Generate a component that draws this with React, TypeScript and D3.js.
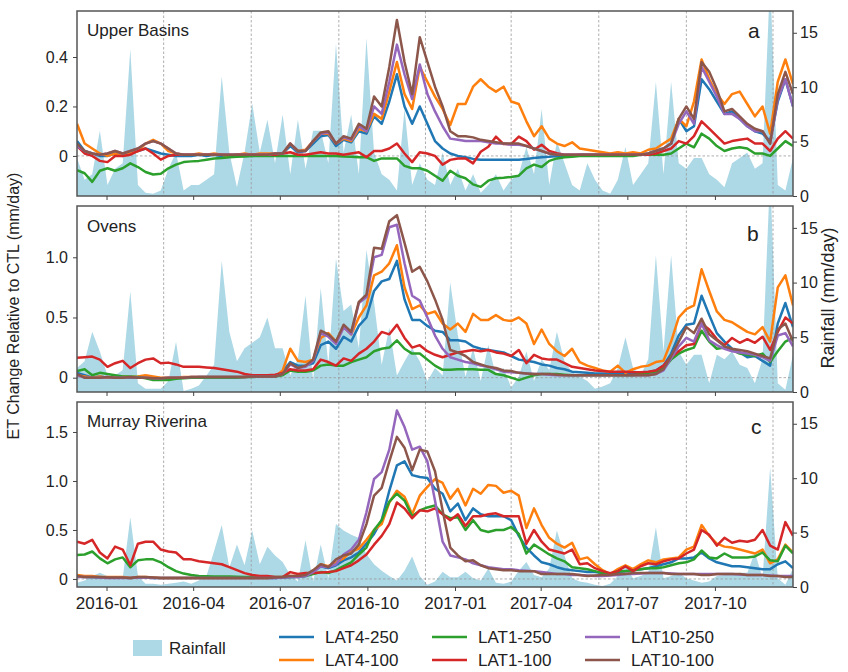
import React, { useEffect, useRef } from 'react';
import * as d3 from 'd3';

// 8-day steps starting 2015-12-01 (95 steps)
const startDate = new Date(2015, 11, 1);
const stepDays = 8;

const seriesNames = ['LAT4-250', 'LAT4-100', 'LAT1-250', 'LAT1-100', 'LAT10-250', 'LAT10-100'];
const seriesColors = ['#1f77b4', '#ff7f0e', '#2ca02c', '#d62728', '#9467bd', '#8c564b'];

const monthTicks = ['2016-01', '2016-04', '2016-07', '2016-10', '2017-01', '2017-04', '2017-07', '2017-10'];
const seasonStarts = ['2016-03', '2016-06', '2016-09', '2016-12', '2017-03', '2017-06', '2017-09', '2017-12'];
const rainTicks = [0, 5, 10, 15];

// ---- Upper Basins ----
const rainA = [
    3.5, 1.5, 2, 6, 1, 2.5, 3, 13.5, 1, 0.3,
    0.2, 0.5, 2.5, 4, 0.5, 1, 1, 1.5, 2, 11,
    4, 0.8, 4, 8.5, 4, 7, 3, 7.5, 2, 7,
    2.5, 6, 6, 3, 14, 4, 7.5, 2, 14.5, 4,
    2, 1.5, 0.5, 8, 1, 3, 1.5, 1, 4, 1,
    2.5, 0.5, 2, 0.3, 1, 2, 0.5, 1.5, 2, 4.5,
    2, 8, 1, 5, 3, 1, 0.5, 3, 1.5, 0.5,
    0.2, 1.5, 4.5, 1, 2, 3, 10.5, 2, 10.5, 3,
    2.5, 3.5, 3.5, 2, 1.5, 0.8, 3, 3.5, 4, 2.5,
    3, 20, 1, 0.5, 3.5
];
const lat4_250A = [
    0.06, 0.02, 0.01, 0.0, 0.0, 0.01, 0.0, 0.01, 0.02, 0.03,
    0.02, 0.01, 0.005, 0.0, 0.0, 0.0, 0.005, 0.0, 0.005, 0.0,
    0.0, 0.005, 0.005, 0.0, 0.005, 0.005, 0.005, 0.01, 0.04, 0.015,
    0.02, 0.05, 0.08, 0.085, 0.04, 0.065, 0.055, 0.10, 0.09, 0.16,
    0.13, 0.22, 0.33, 0.20, 0.13, 0.20, 0.13, 0.06, 0.03, 0.01,
    0.0, -0.005, -0.012, -0.015, -0.015, -0.015, -0.015, -0.015, -0.015, -0.012,
    -0.008, -0.005, -0.003, 0.0, 0.0, 0.0, 0.005, 0.005, 0.005, 0.005,
    0.005, 0.005, 0.005, 0.005, 0.005, 0.01, 0.02, 0.03, 0.05, 0.15,
    0.10, 0.12, 0.31, 0.27, 0.22, 0.17, 0.18, 0.15, 0.12, 0.10,
    0.09, 0.06, 0.22, 0.31, 0.20
];
const lat4_100A = [
    0.13, 0.05, 0.03, 0.01, 0.0, 0.01, 0.0, 0.01, 0.02, 0.05,
    0.065, 0.05, 0.02, 0.01, 0.005, 0.005, 0.01, 0.005, 0.01, 0.005,
    0.0, 0.005, 0.01, 0.005, 0.01, 0.01, 0.01, 0.01, 0.05, 0.02,
    0.025, 0.06, 0.09, 0.09, 0.05, 0.07, 0.06, 0.11, 0.10, 0.17,
    0.15, 0.26, 0.38, 0.25, 0.19, 0.36, 0.30, 0.24, 0.19, 0.125,
    0.21, 0.21, 0.28, 0.31, 0.28, 0.26, 0.28, 0.22, 0.21, 0.14,
    0.08, 0.12, 0.07, 0.05, 0.04, 0.055, 0.03, 0.025, 0.02, 0.015,
    0.01, 0.015, 0.01, 0.015, 0.01, 0.025, 0.03, 0.05, 0.07, 0.15,
    0.12, 0.22, 0.39, 0.31, 0.25, 0.21, 0.25, 0.26, 0.21, 0.16,
    0.20, 0.09, 0.30, 0.39, 0.29
];
const lat1_250A = [
    -0.057, -0.07, -0.105, -0.06, -0.05, -0.06, -0.05, -0.03, -0.045, -0.065,
    -0.075, -0.072, -0.05, -0.035, -0.025, -0.022, -0.02, -0.015, -0.01, -0.008,
    -0.005, -0.003, -0.002, 0.0, 0.0, 0.0, 0.0, 0.0, 0.0, 0.0,
    0.0, 0.0, 0.0, 0.0, 0.0, -0.002, -0.003, -0.005, -0.005, -0.02,
    -0.01, -0.01, -0.01, -0.04, -0.05, -0.05, -0.06, -0.08, -0.1, -0.06,
    -0.08, -0.09, -0.115, -0.125, -0.1, -0.09, -0.088, -0.085, -0.08, -0.05,
    -0.035, -0.045, -0.02, -0.01, -0.005, -0.003, 0.0, 0.0, 0.0, 0.0,
    0.0, 0.0, 0.0, 0.0, 0.005, 0.005, 0.005, 0.005, 0.01, 0.03,
    0.05, 0.035, 0.09, 0.07, 0.04, 0.02, 0.03, 0.035, 0.03, 0.01,
    0.01, 0.0, 0.03, 0.06, 0.04
];
const lat1_100A = [
    0.04, 0.01, 0.0, -0.02, -0.025, 0.0, 0.0, 0.005, 0.02, 0.03,
    0.01, -0.015, 0.0, 0.005, 0.005, 0.005, 0.005, 0.005, 0.005, 0.005,
    0.005, 0.005, 0.005, 0.005, 0.005, 0.005, 0.005, 0.01, 0.015, 0.005,
    0.005, 0.01, 0.015, 0.01, 0.01, 0.005, 0.01, 0.015, -0.005, 0.02,
    0.02, 0.03, 0.05, 0.01, -0.025, 0.015, 0.01, 0.0, -0.035, -0.016,
    -0.01, -0.01, -0.03, 0.017, 0.037, 0.078, 0.048, 0.048, 0.078, 0.06,
    0.025, 0.045, 0.02, 0.011, 0.005, 0.005, 0.005, 0.005, 0.005, 0.005,
    0.005, 0.005, 0.005, 0.005, 0.005, 0.005, 0.01, 0.02, 0.03, 0.06,
    0.05, 0.08, 0.14, 0.11, 0.08, 0.05, 0.06, 0.065, 0.07, 0.05,
    0.05, 0.02, 0.07, 0.10, 0.07
];
const lat10_250A = [
    0.04, 0.02, 0.01, 0.005, 0.01, 0.02, 0.01, 0.02, 0.03, 0.05,
    0.06, 0.05, 0.03, 0.01, 0.005, 0.005, 0.005, 0.005, 0.005, 0.005,
    0.005, 0.005, 0.005, 0.005, 0.005, 0.005, 0.01, 0.01, 0.05, 0.02,
    0.02, 0.06, 0.09, 0.095, 0.05, 0.075, 0.065, 0.12, 0.10, 0.20,
    0.17, 0.30, 0.45, 0.33, 0.23, 0.37, 0.25, 0.18, 0.12, 0.07,
    0.065, 0.06, 0.06, 0.06, 0.055, 0.05, 0.05, 0.045, 0.045, 0.04,
    0.03, 0.02, 0.01, 0.005, 0.005, 0.005, 0.005, 0.005, 0.005, 0.005,
    0.005, 0.005, 0.005, 0.005, 0.005, 0.01, 0.02, 0.03, 0.05, 0.13,
    0.18, 0.13, 0.36, 0.30, 0.24, 0.17, 0.17, 0.15, 0.12, 0.10,
    0.10, 0.05, 0.23, 0.31, 0.20
];
const lat10_100A = [
    0.05, 0.02, 0.01, 0.005, 0.01, 0.02, 0.01, 0.02, 0.03, 0.05,
    0.06, 0.05, 0.03, 0.01, 0.005, 0.005, 0.005, 0.005, 0.005, 0.005,
    0.005, 0.005, 0.005, 0.005, 0.005, 0.005, 0.01, 0.01, 0.05, 0.02,
    0.02, 0.06, 0.095, 0.10, 0.05, 0.08, 0.07, 0.13, 0.11, 0.24,
    0.20, 0.36, 0.55, 0.38, 0.25, 0.48, 0.38, 0.28, 0.20, 0.10,
    0.08, 0.08, 0.075, 0.065, 0.06, 0.055, 0.05, 0.05, 0.05, 0.04,
    0.03, 0.02, 0.01, 0.005, 0.005, 0.005, 0.005, 0.005, 0.005, 0.005,
    0.005, 0.005, 0.005, 0.005, 0.005, 0.01, 0.02, 0.03, 0.05, 0.15,
    0.20, 0.15, 0.38, 0.34, 0.27, 0.18, 0.19, 0.16, 0.13, 0.11,
    0.10, 0.05, 0.25, 0.34, 0.25
];

// ---- Ovens ----
const rainB = [
    2.2, 2.8, 5.5, 3.7, 1.5, 1.5, 2, 9.2, 0.8, 0.3,
    0.3, 0.3, 1, 4.6, 0.1, 0.3, 0.6, 1.5, 2.5, 12,
    5.5, 2.8, 4, 4.5, 5, 6.8, 4, 4, 1.5, 3,
    8.8, 1, 9.5, 2.5, 12.2, 7.4, 8, 4, 13, 8.2,
    2.5, 5.9, 1.5, 2.8, 4, 2.8, 1, 2.2, 1.5, 10,
    5.2, 1.4, 4, 1, 4.3, 1.5, 2.2, 0.4, 1.4, 3.7,
    1, 3, 2, 5.5, 2.8, 1.8, 1.4, 1, 0.3, 0.5,
    0.8, 2.2, 5, 2.2, 1.5, 3, 12.5, 3.7, 12.5, 3.7,
    2.5, 3.4, 3.4, 0.8, 3.4, 3, 3.7, 2.5, 2.2, 0.8,
    3, 20, 0.8, 0.2, 3.4
];
const lat4_250B = [
    0.04, 0.02, 0.0, 0.01, 0.0, 0.0, 0.005, 0.0, 0.0, 0.0,
    0.0, -0.005, -0.005, 0.0, 0.0, 0.0, 0.005, 0.005, 0.005, 0.005,
    0.005, 0.005, 0.005, 0.01, 0.01, 0.01, 0.01, 0.05, 0.13, 0.10,
    0.10, 0.12, 0.27, 0.30, 0.24, 0.34, 0.30, 0.43, 0.50, 0.72,
    0.80, 0.82, 0.97, 0.65, 0.48, 0.48, 0.43, 0.39, 0.38, 0.31,
    0.31, 0.30, 0.26, 0.24, 0.23, 0.22, 0.21, 0.18, 0.15, 0.14,
    0.13, 0.11, 0.10, 0.08, 0.07, 0.05, 0.045, 0.04, 0.035, 0.035,
    0.035, 0.035, 0.035, 0.035, 0.035, 0.045, 0.06, 0.10, 0.20, 0.35,
    0.44, 0.45, 0.68, 0.52, 0.37, 0.30, 0.24, 0.21, 0.17, 0.18,
    0.14, 0.10, 0.45, 0.62, 0.42
];
const lat4_100B = [
    0.02, 0.01, 0.0, 0.01, 0.0, 0.01, 0.01, 0.005, 0.01, 0.02,
    0.01, 0.0, 0.0, 0.0, 0.005, 0.005, 0.005, 0.005, 0.005, 0.005,
    0.005, 0.005, 0.005, 0.01, 0.01, 0.01, 0.01, 0.06, 0.24, 0.14,
    0.13, 0.15, 0.33, 0.37, 0.30, 0.42, 0.36, 0.50, 0.60, 0.85,
    0.88, 0.95, 1.10, 0.75, 0.57, 0.60, 0.53, 0.55, 0.45, 0.40,
    0.45, 0.38, 0.53, 0.48, 0.48, 0.52, 0.48, 0.47, 0.50, 0.45,
    0.28, 0.40, 0.28, 0.22, 0.18, 0.24, 0.13, 0.10, 0.08, 0.06,
    0.05, 0.10, 0.04, 0.07, 0.09, 0.10, 0.13, 0.14, 0.30, 0.50,
    0.57, 0.60, 0.90, 0.72, 0.55, 0.48, 0.46, 0.42, 0.38, 0.36,
    0.42, 0.30, 0.75, 0.85, 0.60
];
const lat1_250B = [
    0.055, 0.07, 0.02, 0.04, 0.03, 0.02, 0.01, 0.01, 0.005, -0.005,
    -0.02, -0.02, -0.02, -0.01, -0.005, 0.0, 0.0, 0.0, 0.0, 0.0,
    0.0, 0.0, 0.005, 0.005, 0.01, 0.01, 0.01, 0.02, 0.06, 0.05,
    0.05, 0.06, 0.10, 0.11, 0.10, 0.10, 0.13, 0.15, 0.17, 0.22,
    0.24, 0.25, 0.31, 0.24, 0.20, 0.20, 0.15, 0.10, 0.065, 0.065,
    0.07, 0.07, 0.07, 0.065, 0.065, 0.03, 0.02, 0.0, -0.02, 0.0,
    0.02, 0.03, 0.03, 0.03, 0.025, 0.02, 0.02, 0.02, 0.02, 0.02,
    0.02, 0.02, 0.02, 0.02, 0.03, 0.035, 0.04, 0.08, 0.15, 0.20,
    0.23, 0.25, 0.39, 0.30, 0.24, 0.25, 0.23, 0.20, 0.19, 0.18,
    0.20, 0.13, 0.22, 0.30, 0.33
];
const lat1_100B = [
    0.166, 0.17, 0.175, 0.15, 0.09, 0.12, 0.14, 0.08, 0.12, 0.15,
    0.16, 0.12, 0.125, 0.11, 0.09, 0.09, 0.09, 0.085, 0.08, 0.07,
    0.06, 0.05, 0.03, 0.02, 0.02, 0.02, 0.025, 0.04, 0.07, 0.06,
    0.06, 0.07, 0.15, 0.13, 0.10, 0.16, 0.14, 0.20, 0.24, 0.30,
    0.38, 0.36, 0.44, 0.33, 0.25, 0.27, 0.22, 0.19, 0.17, 0.19,
    0.21, 0.22, 0.23, 0.22, 0.23, 0.21, 0.20, 0.18, 0.23, 0.12,
    0.19, 0.16, 0.15, 0.15, 0.12, 0.09, 0.08, 0.07, 0.06, 0.055,
    0.05, 0.05, 0.05, 0.045, 0.045, 0.05, 0.06, 0.10, 0.17, 0.22,
    0.27, 0.28, 0.45, 0.40, 0.32, 0.27, 0.33, 0.29, 0.32, 0.29,
    0.34, 0.23, 0.38, 0.50, 0.45
];
const lat10_250B = [
    0.02, 0.0, 0.0, 0.0, 0.005, 0.0, 0.0, 0.005, 0.0, 0.0,
    -0.005, -0.005, 0.0, 0.0, 0.0, 0.005, 0.005, 0.005, 0.005, 0.005,
    0.005, 0.005, 0.005, 0.01, 0.01, 0.01, 0.01, 0.03, 0.11, 0.08,
    0.09, 0.14, 0.37, 0.34, 0.28, 0.42, 0.36, 0.62, 0.67, 1.00,
    1.02, 1.25, 1.27, 0.95, 0.68, 0.64, 0.50, 0.35, 0.24, 0.17,
    0.15, 0.13, 0.12, 0.10, 0.09, 0.07, 0.05, 0.045, 0.04, 0.035,
    0.03, 0.03, 0.025, 0.02, 0.02, 0.02, 0.02, 0.02, 0.02, 0.02,
    0.02, 0.02, 0.02, 0.02, 0.02, 0.02, 0.03, 0.06, 0.16, 0.26,
    0.33, 0.30, 0.45, 0.31, 0.27, 0.24, 0.22, 0.21, 0.20, 0.19,
    0.17, 0.14, 0.35, 0.37, 0.26
];
const lat10_100B = [
    0.03, 0.0, 0.0, 0.0, 0.005, 0.0, 0.0, 0.005, 0.0, 0.0,
    -0.005, -0.005, 0.0, 0.0, 0.0, 0.005, 0.005, 0.005, 0.005, 0.005,
    0.005, 0.005, 0.005, 0.01, 0.01, 0.01, 0.01, 0.03, 0.12, 0.08,
    0.10, 0.15, 0.39, 0.36, 0.30, 0.44, 0.38, 0.63, 0.69, 1.08,
    1.07, 1.30, 1.35, 1.12, 0.88, 0.92, 0.80, 0.65, 0.48, 0.23,
    0.21, 0.18, 0.13, 0.11, 0.09, 0.08, 0.06, 0.055, 0.04, 0.035,
    0.03, 0.03, 0.03, 0.025, 0.02, 0.02, 0.02, 0.02, 0.02, 0.02,
    0.02, 0.02, 0.02, 0.02, 0.02, 0.02, 0.03, 0.07, 0.18, 0.30,
    0.42, 0.37, 0.49, 0.36, 0.31, 0.26, 0.24, 0.23, 0.22, 0.20,
    0.18, 0.16, 0.40, 0.45, 0.30
];

// ---- Murray Riverina ----
const rainC = [
    0.4, 0.6, 1, 1.3, 1, 0.8, 0.8, 6.4, 1, 0.3,
    0.3, 0.2, 0.3, 0.4, 0.5, 0.3, 0.6, 1, 3.3, 5.7,
    1.8, 3.9, 2, 5.2, 2.1, 3.7, 2.9, 2.3, 1.1, 0.5,
    4.3, 0.5, 3.9, 0.8, 5.8, 5.2, 4.8, 4.5, 3, 2.1,
    1.5, 1, 0.6, 1.5, 2.8, 1, 0.2, 0.5, 1.4, 0.9,
    0.9, 1.4, 0.8, 0.6, 1.7, 0.4, 0.3, 0.5, 1.5, 2.3,
    1.1, 0.9, 1.7, 5.2, 2.9, 0.8, 0.5, 0.4, 0.2, 0.1,
    0.3, 1, 1.9, 0.8, 1, 1.3, 5.5, 0.8, 1, 1.3,
    0.8, 0.6, 0.4, 0.5, 1, 1.1, 1.1, 1.3, 1.3, 3.2,
    0.8, 11, 0.8, 0.2, 1.7
];
const lat4_250C = [
    0.03, 0.02, 0.02, 0.015, 0.015, 0.015, 0.015, 0.01, 0.015, 0.015,
    0.01, 0.01, 0.01, 0.01, 0.01, 0.01, 0.01, 0.01, 0.01, 0.01,
    0.01, 0.01, 0.01, 0.01, 0.01, 0.01, 0.01, 0.015, 0.02, 0.02,
    0.03, 0.07, 0.13, 0.11, 0.14, 0.19, 0.22, 0.27, 0.36, 0.46,
    0.60, 0.90, 1.16, 1.20, 1.06, 1.04, 1.03, 0.92, 0.87, 0.69,
    0.77, 0.60, 0.72, 0.66, 0.64, 0.64, 0.64, 0.60, 0.44, 0.32,
    0.24, 0.17, 0.15, 0.12, 0.10, 0.09, 0.08, 0.07, 0.07, 0.06,
    0.05, 0.07, 0.08, 0.09, 0.10, 0.11, 0.13, 0.15, 0.17, 0.21,
    0.21, 0.22, 0.27, 0.21, 0.17, 0.15, 0.13, 0.13, 0.12, 0.11,
    0.10, 0.10, 0.15, 0.18, 0.11
];
const lat4_100C = [
    0.04, 0.03, 0.03, 0.02, 0.02, 0.02, 0.02, 0.01, 0.02, 0.02,
    0.015, 0.01, 0.01, 0.01, 0.01, 0.01, 0.01, 0.01, 0.01, 0.01,
    0.01, 0.01, 0.01, 0.01, 0.01, 0.01, 0.015, 0.02, 0.03, 0.03,
    0.04, 0.08, 0.15, 0.13, 0.17, 0.21, 0.28, 0.31, 0.40, 0.50,
    0.56, 0.78, 0.90, 0.84, 0.66, 0.85, 0.94, 1.02, 0.98, 0.82,
    0.92, 0.75, 0.92, 0.87, 0.96, 0.95, 0.88, 0.90, 0.85, 0.52,
    0.72, 0.55, 0.42, 0.36, 0.32, 0.37, 0.20, 0.22, 0.15, 0.09,
    0.05, 0.10, 0.14, 0.10, 0.15, 0.19, 0.17, 0.20, 0.21, 0.22,
    0.30, 0.33, 0.55, 0.44, 0.36, 0.33, 0.32, 0.30, 0.28, 0.26,
    0.30, 0.16, 0.20, 0.35, 0.27
];
const lat1_250C = [
    0.245, 0.25, 0.28, 0.21, 0.16, 0.20, 0.22, 0.12, 0.19, 0.20,
    0.20, 0.17, 0.12, 0.08, 0.055, 0.04, 0.03, 0.028, 0.025, 0.025,
    0.025, 0.022, 0.02, 0.02, 0.02, 0.02, 0.02, 0.02, 0.02, 0.025,
    0.03, 0.05, 0.07, 0.06, 0.09, 0.13, 0.17, 0.25, 0.32, 0.50,
    0.60, 0.79, 0.87, 0.80, 0.64, 0.70, 0.73, 0.75, 0.66, 0.62,
    0.63, 0.50, 0.60, 0.50, 0.48, 0.50, 0.50, 0.53, 0.46, 0.26,
    0.35, 0.30, 0.25, 0.21, 0.18, 0.12, 0.11, 0.10, 0.08, 0.06,
    0.05, 0.08, 0.08, 0.09, 0.10, 0.11, 0.11, 0.12, 0.14, 0.16,
    0.17, 0.20, 0.29, 0.22, 0.21, 0.26, 0.22, 0.22, 0.22, 0.23,
    0.27, 0.19, 0.18, 0.34, 0.26
];
const lat1_100C = [
    0.38, 0.36, 0.40, 0.27, 0.21, 0.33, 0.30, 0.14, 0.36, 0.38,
    0.38, 0.30, 0.28, 0.27, 0.20, 0.20, 0.18, 0.17, 0.16, 0.15,
    0.12, 0.09, 0.06, 0.04, 0.03, 0.03, 0.02, 0.02, 0.07, 0.05,
    0.06, 0.06, 0.065, 0.07, 0.08, 0.11, 0.14, 0.19, 0.25, 0.35,
    0.44, 0.56, 0.78, 0.72, 0.62, 0.70, 0.69, 0.72, 0.66, 0.60,
    0.66, 0.54, 0.64, 0.64, 0.66, 0.67, 0.64, 0.64, 0.64, 0.36,
    0.50, 0.38, 0.30, 0.28, 0.26, 0.30, 0.15, 0.16, 0.11, 0.08,
    0.06, 0.08, 0.13, 0.08, 0.13, 0.16, 0.15, 0.18, 0.20, 0.21,
    0.26, 0.30, 0.50, 0.45, 0.34, 0.42, 0.37, 0.39, 0.38, 0.40,
    0.50, 0.34, 0.30, 0.58, 0.44
];
const lat10_250C = [
    0.02, 0.02, 0.02, 0.015, 0.01, 0.01, 0.01, 0.01, 0.015, 0.015,
    0.01, 0.01, 0.01, 0.01, 0.01, 0.01, 0.01, 0.01, 0.01, 0.01,
    0.01, 0.01, 0.01, 0.01, 0.01, 0.01, 0.01, 0.015, 0.02, 0.02,
    0.03, 0.07, 0.13, 0.12, 0.15, 0.25, 0.30, 0.40, 0.68, 1.02,
    1.09, 1.32, 1.72, 1.55, 1.32, 1.35, 1.20, 0.80, 0.38, 0.24,
    0.22, 0.20, 0.16, 0.14, 0.12, 0.11, 0.10, 0.10, 0.09, 0.085,
    0.08, 0.07, 0.06, 0.05, 0.05, 0.04, 0.04, 0.035, 0.03, 0.03,
    0.035, 0.04, 0.05, 0.05, 0.055, 0.06, 0.06, 0.06, 0.055, 0.05,
    0.05, 0.05, 0.05, 0.05, 0.05, 0.05, 0.05, 0.045, 0.04, 0.04,
    0.04, 0.035, 0.03, 0.03, 0.03
];
const lat10_100C = [
    0.03, 0.02, 0.02, 0.02, 0.015, 0.015, 0.015, 0.01, 0.02, 0.02,
    0.015, 0.01, 0.01, 0.01, 0.01, 0.01, 0.01, 0.01, 0.01, 0.01,
    0.01, 0.01, 0.01, 0.01, 0.01, 0.01, 0.015, 0.02, 0.03, 0.03,
    0.04, 0.09, 0.15, 0.12, 0.20, 0.24, 0.26, 0.35, 0.56, 0.85,
    0.93, 1.20, 1.45, 1.34, 1.11, 1.32, 1.30, 1.10, 0.70, 0.32,
    0.24, 0.18, 0.19, 0.14, 0.11, 0.10, 0.09, 0.09, 0.08, 0.08,
    0.08, 0.05, 0.05, 0.05, 0.05, 0.05, 0.04, 0.03, 0.035, 0.04,
    0.04, 0.05, 0.05, 0.06, 0.06, 0.06, 0.06, 0.06, 0.05, 0.05,
    0.05, 0.05, 0.04, 0.04, 0.05, 0.05, 0.05, 0.05, 0.04, 0.04,
    0.04, 0.03, 0.03, 0.02, 0.02
];

const panels = [
    {
        title: 'Upper Basins', letter: 'a', top: 11, bottom: 196,
        yDomain: [-0.162, 0.586], yTicks: [0, 0.2, 0.4],
        titleY: 36, letterY: 38, letterX: 748,
        rain: rainA,
        series: [lat4_250A, lat4_100A, lat1_250A, lat1_100A, lat10_250A, lat10_100A]
    },
    {
        title: 'Ovens', letter: 'b', top: 206, bottom: 392,
        yDomain: [-0.119, 1.426], yTicks: [0, 0.5, 1.0],
        titleY: 232, letterY: 241, letterX: 747,
        rain: rainB,
        series: [lat4_250B, lat4_100B, lat1_250B, lat1_100B, lat10_250B, lat10_100B]
    },
    {
        title: 'Murray Riverina', letter: 'c', top: 402, bottom: 587,
        yDomain: [-0.082, 1.806], yTicks: [0, 0.5, 1.0, 1.5],
        titleY: 427, letterY: 434, letterX: 751,
        rain: rainC,
        series: [lat4_250C, lat4_100C, lat1_250C, lat1_100C, lat10_250C, lat10_100C]
    }
];

const FONT = "'Liberation Sans', Arial, sans-serif";
const LEFT = 77;
const RIGHT = 793;

export default function App() {
    const svgRef = useRef<SVGSVGElement | null>(null);

    useEffect(() => {
        const svg = d3.select(svgRef.current);
        svg.selectAll('*').remove();

        const n = rainA.length;
        const dates = d3.range(n).map((i) => d3.timeDay.offset(startDate, i * stepDays));
        const parse = d3.timeParse('%Y-%m');

        const x = d3.scaleTime()
            .domain([dates[0], dates[n - 1]])
            .range([LEFT, RIGHT]);

        panels.forEach((p, pi) => {
            const y = d3.scaleLinear().domain(p.yDomain).range([p.bottom, p.top]);
            const yr = d3.scaleLinear().domain([0, 17]).range([p.bottom, p.top]);

            const clipId = `clip-${pi}`;
            svg.append('clipPath').attr('id', clipId)
                .append('rect')
                .attr('x', LEFT).attr('y', p.top)
                .attr('width', RIGHT - LEFT).attr('height', p.bottom - p.top);

            const g = svg.append('g').attr('clip-path', `url(#${clipId})`);

            // rainfall area (right axis)
            const area = d3.area<number>()
                .x((_, i) => x(dates[i]))
                .y0(p.bottom)
                .y1((d) => yr(d));
            g.append('path')
                .datum(p.rain)
                .attr('fill', '#add8e6')
                .attr('d', area);

            // dashed season dividers
            g.selectAll('.season')
                .data(seasonStarts.map((s) => parse(s) as Date))
                .enter().append('line')
                .attr('x1', (d) => x(d)).attr('x2', (d) => x(d))
                .attr('y1', p.top).attr('y2', p.bottom)
                .attr('stroke', '#999')
                .attr('stroke-width', 0.8)
                .attr('stroke-dasharray', '2.5,2');

            // zero line
            g.append('line')
                .attr('x1', LEFT).attr('x2', RIGHT)
                .attr('y1', y(0)).attr('y2', y(0))
                .attr('stroke', '#999')
                .attr('stroke-width', 0.8)
                .attr('stroke-dasharray', '2.5,2');

            const line = d3.line<number>()
                .x((_, i) => x(dates[i]))
                .y((d) => y(d));

            p.series.forEach((s, si) => {
                g.append('path')
                    .datum(s)
                    .attr('fill', 'none')
                    .attr('stroke', seriesColors[si])
                    .attr('stroke-width', 2.5)
                    .attr('stroke-linejoin', 'round')
                    .attr('d', line);
            });

            // frame
            svg.append('rect')
                .attr('x', LEFT).attr('y', p.top)
                .attr('width', RIGHT - LEFT).attr('height', p.bottom - p.top)
                .attr('fill', 'none')
                .attr('stroke', '#555')
                .attr('stroke-width', 1.5);

            // axes
            const leftAxis = d3.axisLeft(y)
                .tickValues(p.yTicks)
                .tickSize(4)
                .tickPadding(5)
                .tickFormat((d) => (+d === 0 ? '0' : d3.format('.1f')(+d)));
            const gl = svg.append('g').attr('transform', `translate(${LEFT},0)`).call(leftAxis);

            const rightAxis = d3.axisRight(yr)
                .tickValues(rainTicks)
                .tickSize(4)
                .tickPadding(3)
                .tickFormat(d3.format('d'));
            const gr = svg.append('g').attr('transform', `translate(${RIGHT},0)`).call(rightAxis);

            const bottomAxis = d3.axisBottom(x)
                .tickValues(monthTicks.map((m) => parse(m) as Date))
                .tickSize(4)
                .tickPadding(6)
                .tickFormat((d) => (pi === panels.length - 1 ? d3.timeFormat('%Y-%m')(d as Date) : ''));
            const gb = svg.append('g').attr('transform', `translate(0,${p.bottom})`).call(bottomAxis);

            [gl, gr, gb].forEach((ax) => {
                ax.select('.domain').remove();
                ax.selectAll('line').attr('stroke', '#444').attr('stroke-width', 1);
                ax.selectAll('text')
                    .attr('fill', '#222')
                    .style('font-family', FONT)
                    .style('font-size', '16px');
            });
            gb.selectAll('text').style('font-size', '17px');

            // titles
            svg.append('text')
                .attr('x', 87).attr('y', p.titleY)
                .style('font-family', FONT).style('font-size', '17px')
                .attr('fill', '#222')
                .text(p.title);
            svg.append('text')
                .attr('x', p.letterX).attr('y', p.letterY)
                .style('font-family', FONT).style('font-size', '21px')
                .attr('fill', '#222')
                .text(p.letter);
        });

        // axis labels
        svg.append('text')
            .attr('transform', 'translate(19,306) rotate(-90)')
            .attr('text-anchor', 'middle')
            .style('font-family', FONT).style('font-size', '16px')
            .attr('fill', '#222')
            .text('ET Change Relative to CTL (mm/day)');
        svg.append('text')
            .attr('transform', 'translate(834,298) rotate(-90)')
            .attr('text-anchor', 'middle')
            .style('font-family', FONT).style('font-size', '18px')
            .attr('fill', '#222')
            .text('Rainfall (mm/day)');

        // legend
        const legend = svg.append('g');
        legend.append('rect')
            .attr('x', 133).attr('y', 640).attr('width', 29).attr('height', 16)
            .attr('fill', '#add8e6');
        legend.append('text')
            .attr('x', 169).attr('y', 654)
            .style('font-family', FONT).style('font-size', '17px')
            .attr('fill', '#222')
            .text('Rainfall');

        const colX = [279, 432, 585];
        const rowY = [637, 660];
        seriesNames.forEach((name, i) => {
            const cx = colX[Math.floor(i / 2)];
            const ry = rowY[i % 2];
            legend.append('line')
                .attr('x1', cx).attr('x2', cx + 35)
                .attr('y1', ry).attr('y2', ry)
                .attr('stroke', seriesColors[i])
                .attr('stroke-width', 2.5);
            legend.append('text')
                .attr('x', cx + 46).attr('y', ry + 6)
                .style('font-family', FONT).style('font-size', '17px')
                .attr('fill', '#222')
                .text(name);
        });
    }, []);

    return (
        <svg
            ref={svgRef}
            width={848}
            height={672}
            style={{ position: 'absolute', left: 0, top: 0, background: '#fff' }}
        />
    );
}
